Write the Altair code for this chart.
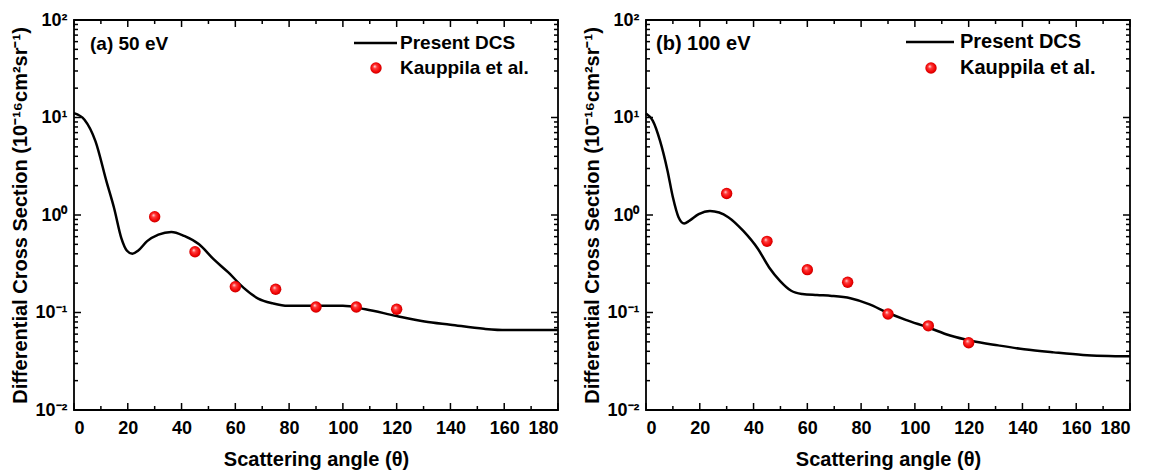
import altair as alt
import pandas as pd

# ---------------- data ----------------
theta_a = [0, 3.9, 8, 12.1, 14.9, 17.6, 19.7, 21.7, 23.8, 27.2, 31.4, 36.2, 41, 46.5,
           52, 57.5, 63, 68.5, 74, 79.5, 89, 100, 108.4, 120, 130.4, 140, 152.5, 160.7, 180]
dcs_a = [11.1, 9.5, 5.7, 2.2, 1.18, 0.58, 0.43, 0.40, 0.43, 0.54, 0.63, 0.67, 0.61, 0.50,
         0.35, 0.256, 0.18, 0.139, 0.124, 0.117, 0.117, 0.117, 0.108, 0.092, 0.081, 0.075,
         0.068, 0.066, 0.066]
exp_theta_a = [30, 45, 60, 75, 90, 105, 120]
exp_dcs_a = [0.96, 0.42, 0.184, 0.173, 0.114, 0.114, 0.108]

theta_b = [0, 2.5, 5.2, 8, 10, 12.1, 14.2, 16.2, 19.6, 23.8, 27.2, 30.6, 36.1, 41.6, 45.8,
           49.9, 54, 58.1, 63.6, 69.1, 76, 82.9, 89.7, 96.6, 104.8, 113.1, 121.3, 131,
           140.6, 151.6, 162.5, 180]
dcs_b = [11.0, 9.3, 5.8, 2.85, 1.52, 0.95, 0.82, 0.875, 1.02, 1.1, 1.06, 0.95, 0.69, 0.45,
         0.29, 0.21, 0.167, 0.155, 0.151, 0.148, 0.14, 0.122, 0.100, 0.084, 0.0705, 0.058,
         0.051, 0.046, 0.042, 0.039, 0.0367, 0.0355]
exp_theta_b = [30, 45, 60, 75, 90, 105, 120]
exp_dcs_b = [1.66, 0.537, 0.275, 0.204, 0.0966, 0.073, 0.049]

x_ticks_major = [0, 20, 40, 60, 80, 100, 120, 140, 160, 180]
x_ticks_minor = [10, 30, 50, 70, 90, 110, 130, 150, 170]
y_decades = [0.01, 0.1, 1, 10, 100]
y_minor_mult = [2, 3, 4, 5, 6, 7, 8, 9]

panel_labels = ["(a) 50 eV", "(b) 100 eV"]
legend_labels = ["Present DCS", "Kauppila et al."]

# ---------------- styling ----------------
W, H = 484, 390
FONT = "Liberation Sans"
y_minor = [d * m for d in y_decades[:-1] for m in y_minor_mult]

label_expr = ("datum.value == 100 ? '10\u00b2' : datum.value == 10 ? '10\u00b9' : "
              "datum.value == 1 ? '10\u2070' : datum.value == 0.1 ? '10\u207b\u00b9' : "
              "'10\u207b\u00b2'")

xscale = alt.Scale(domain=[0, 180], nice=False, zero=False)
yscale = alt.Scale(type="log", domain=[0.01, 100], nice=False)

sphere = alt.RadialGradient(
    gradient="radial",
    stops=[alt.GradientStop(offset=0, color="#ffe6e6"),
           alt.GradientStop(offset=0.3, color="#ff3b3b"),
           alt.GradientStop(offset=0.75, color="#f00000"),
           alt.GradientStop(offset=1, color="#b00000")],
    x1=0.38, y1=0.35, r1=0, x2=0.5, y2=0.5, r2=0.55,
)


def panel(theta, dcs, et, ed, plabel, lab_pos, fs):
    line_df = pd.DataFrame({"theta": theta, "dcs": dcs})
    pt_df = pd.DataFrame({"theta": et, "dcs": ed})

    x_enc = alt.X("theta:Q", scale=xscale,
                  axis=alt.Axis(values=x_ticks_major, title="Scattering angle (\u03b8)",
                                ticks=False, domain=False, grid=False,
                                labelPadding=9, titlePadding=12))
    y_enc = alt.Y("dcs:Q", scale=yscale,
                  axis=alt.Axis(values=y_decades, labelExpr=label_expr,
                                title="Differential Cross Section (10\u207b\u00b9\u2076cm\u00b2sr\u207b\u00b9)",
                                ticks=False, domain=False, grid=False,
                                labelPadding=7, titlePadding=4))

    line = alt.Chart(line_df).mark_line(color="black", strokeWidth=2.5,
                                        interpolate="monotone").encode(x=x_enc, y=y_enc)
    pts = alt.Chart(pt_df).mark_point(filled=True, fill=sphere, size=130, opacity=1,
                                      strokeWidth=0).encode(
        x=alt.X("theta:Q", scale=xscale), y=alt.Y("dcs:Q", scale=yscale))

    # inward ticks on all four sides
    ymaj = pd.DataFrame({"v": y_decades})
    ymin = pd.DataFrame({"v": y_minor})
    xmaj = pd.DataFrame({"v": x_ticks_major})
    xmin = pd.DataFrame({"v": x_ticks_minor})
    tk = dict(color="black", strokeWidth=1.5)
    ticks = [
        alt.Chart(ymaj).mark_rule(**tk).encode(y=alt.Y("v:Q", scale=yscale), x=alt.value(0), x2=alt.value(7)),
        alt.Chart(ymaj).mark_rule(**tk).encode(y=alt.Y("v:Q", scale=yscale), x=alt.value(W - 7), x2=alt.value(W)),
        alt.Chart(ymin).mark_rule(**tk).encode(y=alt.Y("v:Q", scale=yscale), x=alt.value(0), x2=alt.value(4)),
        alt.Chart(ymin).mark_rule(**tk).encode(y=alt.Y("v:Q", scale=yscale), x=alt.value(W - 4), x2=alt.value(W)),
        alt.Chart(xmaj).mark_rule(**tk).encode(x=alt.X("v:Q", scale=xscale), y=alt.value(H), y2=alt.value(H - 7)),
        alt.Chart(xmaj).mark_rule(**tk).encode(x=alt.X("v:Q", scale=xscale), y=alt.value(0), y2=alt.value(7)),
        alt.Chart(xmin).mark_rule(**tk).encode(x=alt.X("v:Q", scale=xscale), y=alt.value(H), y2=alt.value(H - 4)),
        alt.Chart(xmin).mark_rule(**tk).encode(x=alt.X("v:Q", scale=xscale), y=alt.value(0), y2=alt.value(4)),
    ]

    lx, ly, rx0, rx1, tx, mx, ty1, ty2 = lab_pos
    txt = dict(align="left", baseline="middle", font=FONT, fontSize=fs, fontWeight="bold", color="black")
    plab = alt.Chart(pd.DataFrame({"t": [plabel]})).mark_text(**txt).encode(
        x=alt.value(lx), y=alt.value(ly), text="t:N")
    leg_line = alt.Chart(pd.DataFrame({"t": [legend_labels[0]]})).mark_rule(
        color="black", strokeWidth=2.5).encode(x=alt.value(rx0), x2=alt.value(rx1), y=alt.value(ty1))
    leg_t1 = alt.Chart(pd.DataFrame({"t": [legend_labels[0]]})).mark_text(**txt).encode(
        x=alt.value(tx), y=alt.value(ty1), text="t:N")
    leg_pt = alt.Chart(pd.DataFrame({"t": [legend_labels[1]]})).mark_point(
        filled=True, fill=sphere, size=130, opacity=1, strokeWidth=0).encode(
        x=alt.value(mx), y=alt.value(ty2))
    leg_t2 = alt.Chart(pd.DataFrame({"t": [legend_labels[1]]})).mark_text(**txt).encode(
        x=alt.value(tx), y=alt.value(ty2), text="t:N")

    return alt.layer(line, *ticks, pts, plab, leg_line, leg_t1, leg_pt, leg_t2).properties(
        width=W, height=H)


pa = panel(theta_a, dcs_a, exp_theta_a, exp_dcs_a, panel_labels[0],
           (16, 24, 280, 323, 326, 302, 23, 48), 19)
pb = panel(theta_b, dcs_b, exp_theta_b, exp_dcs_b, panel_labels[1],
           (10, 24, 260, 308, 314, 285, 22, 48), 20)

chart = alt.hconcat(pa, pb, spacing=88, bounds="flush").properties(
    padding={"left": 2, "top": 2, "right": 0, "bottom": 0}
).configure_view(stroke="black", strokeWidth=1.8).configure_axis(
    labelFont=FONT, labelFontSize=18, labelFontWeight="bold", labelColor="black",
    titleFont=FONT, titleFontSize=20, titleFontWeight="bold", titleColor="black",
    labelOverlap=False,
)

chart.save("out.html", embed_options={"renderer": "svg", "actions": False})
